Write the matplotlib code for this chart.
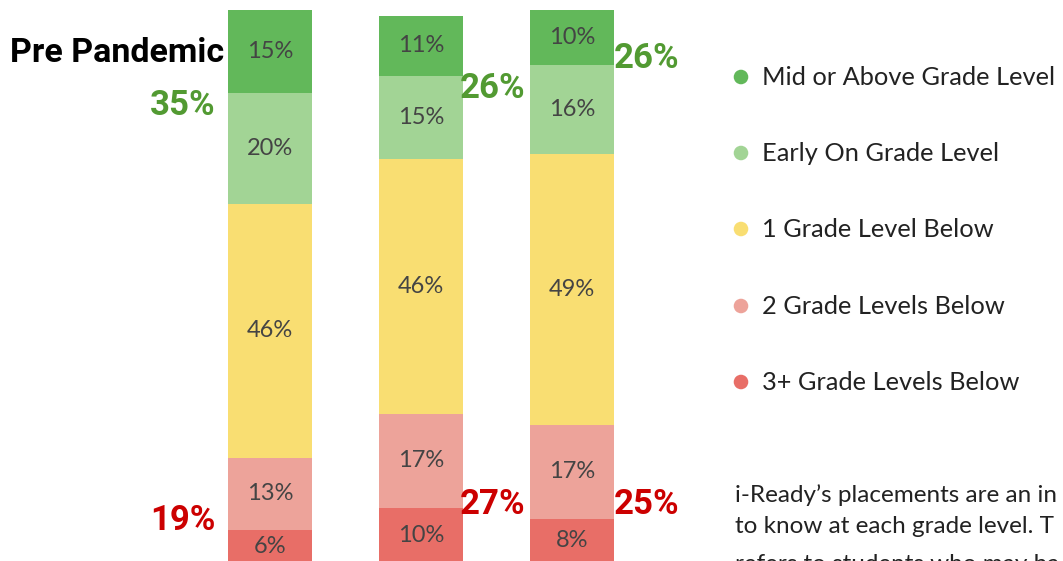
import matplotlib.pyplot as plt
import numpy as np

# datos
grupos = ["Pre Pandemic", "B", "C"]
categorias = ["3+ Grade Levels Below", "2 Grade Levels Below", "1 Grade Level Below",
              "Early On Grade Level", "Mid or Above Grade Level"]
tres_mas = [6, 10, 8]
dos_abajo = [13, 17, 17]
uno_abajo = [46, 46, 49]
temprano = [20, 15, 16]
medio_arriba = [15, 11, 10]
total_verde = ["35%", "26%", "26%"]
total_rojo = ["19%", "27%", "25%"]

colores = ["#e86e67", "#eda39a", "#f9de72", "#a2d495", "#62b85a"]
series = [tres_mas, dos_abajo, uno_abajo, temprano, medio_arriba]

W, H = 1063, 561
fig = plt.figure(figsize=(W / 100, H / 100), dpi=100)

# eje de barras: x=0 -> 270px, 151px por unidad; y: 100 -> 10px, 0 -> 563px
px_u = 151.0
y_px = 5.53
ax = fig.add_axes([0, 0, 1, (H - 10) / H])
ax.set_xlim(-270 / px_u, (W - 270) / px_u)
ax.set_ylim((563 - H) / y_px, 100)
ax.axis("off")

x = np.arange(len(grupos))
ancho = 0.56
base = np.zeros(len(grupos))
for vals, col in zip(series, colores):
    vals = np.array(vals, dtype=float)
    ax.bar(x, vals, ancho, bottom=base, color=col, edgecolor="none")
    for xi, b, v in zip(x, base, vals):
        ax.text(xi, b + v / 2, f"{int(v)}%", ha="center", va="center",
                fontsize=17, color="#444444", family="Lato")
    base = base + vals

# capa de texto en pixeles
ov = fig.add_axes([0, 0, 1, 1], facecolor="none")
ov.set_xlim(0, W)
ov.set_ylim(H, 0)
ov.axis("off")

verde = "#529a32"
rojo = "#cc0000"
ov.text(10, 62, "Pre Pandemic", fontsize=24.5, fontweight="bold", family="Roboto",
        ha="left", va="baseline", color="black")
for xt, yt, t in zip([183, 493, 647], [105, 88, 58], total_verde):
    ov.text(xt, yt, t, fontsize=25, fontweight="bold", family="Roboto",
            ha="center", va="center", color=verde)
for xt, yt, t in zip([183, 493, 647], [521, 505, 505], total_rojo):
    ov.text(xt, yt, t, fontsize=25, fontweight="bold", family="Roboto",
            ha="center", va="center", color=rojo)

# leyenda
ley_y = [77, 153, 229, 306, 382]
for yy, cat, col in zip(ley_y, categorias[::-1], colores[::-1]):
    ov.scatter([741], [yy], s=110, color=col, edgecolor="none")
    ov.text(762, yy, cat, fontsize=18.3, family="Lato", color="#222222",
            ha="left", va="center")

nota = ["i-Ready\u2019s placements are an in",
        "to know at each grade level. T",
        "refers to students who may ha"]
for yy, linea in zip([502, 533, 571], nota):
    ov.text(735, yy, linea, fontsize=17.5, family="Lato", color="#222222",
            ha="left", va="baseline")

fig.savefig("out.png", dpi=100)
